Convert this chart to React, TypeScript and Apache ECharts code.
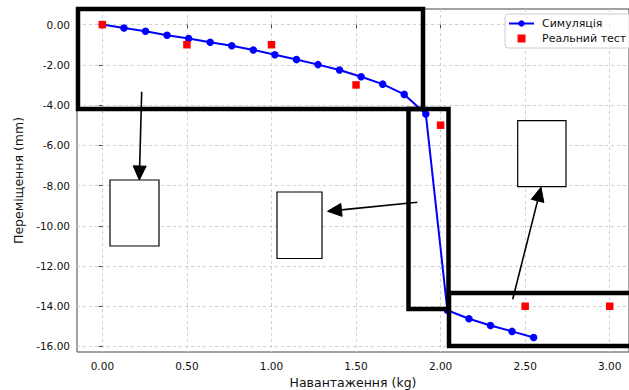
import React, { useEffect, useRef } from "react";
import * as echarts from "echarts";

// Simulation (blue line)
const xSim = [0, 0.1275, 0.255, 0.3825, 0.51, 0.6375, 0.765, 0.8925, 1.02, 1.1475, 1.275, 1.4025, 1.53, 1.6575, 1.785, 1.9125, 2.04, 2.1675, 2.295, 2.4225, 2.55];
const ySim = [0, -0.17, -0.33, -0.53, -0.69, -0.88, -1.05, -1.26, -1.5, -1.74, -1.99, -2.26, -2.59, -2.96, -3.47, -4.44, -14.2, -14.62, -14.96, -15.25, -15.55];

// Real test (red squares)
const xTest = [0, 0.5, 1.0, 1.5, 2.0, 2.5, 3.0];
const yTest = [0, -1.0, -1.0, -3.0, -5.0, -14.0, -14.0];

// Ticks
const xTicks = [0, 0.5, 1.0, 1.5, 2.0, 2.5, 3.0];
const yTicks = [0, -2, -4, -6, -8, -10, -12, -14, -16];

const seriesNames = ["Симуляція", "Реальний тест"];
const xTitle = "Навантаження (kg)";
const yTitle = "Переміщення (mm)";

const FONT = "DejaVu Sans";

function arrow(tail: number[], tip: number[], len = 14, half = 6.5) {
  const dx = tip[0] - tail[0];
  const dy = tip[1] - tail[1];
  const d = Math.sqrt(dx * dx + dy * dy);
  const ux = dx / d;
  const uy = dy / d;
  const bx = tip[0] - ux * len;
  const by = tip[1] - uy * len;
  const px = -uy;
  const py = ux;
  return [
    {
      type: "line",
      z: 100,
      shape: { x1: tail[0], y1: tail[1], x2: bx, y2: by },
      style: { stroke: "#000", lineWidth: 1.6 },
    },
    {
      type: "polygon",
      z: 100,
      shape: {
        points: [
          [tip[0], tip[1]],
          [bx + px * half, by + py * half],
          [bx - px * half, by - py * half],
        ],
      },
      style: { fill: "#000", stroke: "#000", lineWidth: 1 },
    },
  ];
}

function thickRect(x: number, y: number, w: number, h: number) {
  return {
    type: "rect",
    z: 100,
    shape: { x, y, width: w, height: h },
    style: { fill: "none", stroke: "#000", lineWidth: 4.5 },
  };
}

function thinBox(x: number, y: number, w: number, h: number) {
  return {
    type: "rect",
    z: 100,
    shape: { x, y, width: w, height: h },
    style: { fill: "#fff", stroke: "#000", lineWidth: 1.2 },
  };
}

export default function App() {
  const ref = useRef<HTMLDivElement>(null);
  useEffect(() => {
    document.body.style.margin = "0";
    const chart = echarts.init(ref.current!, null, { renderer: "svg" });
    const simData = xSim.map((x, i) => [x, ySim[i]]);
    const testData = xTest.map((x, i) => [x, yTest[i]]);
    const option: any = {
      animation: false,
      backgroundColor: "#fff",
      textStyle: { fontFamily: FONT },
      grid: {
        left: 77,
        top: 9,
        right: 0,
        bottom: 38,
        containLabel: false,
        outerBoundsMode: "none",
        show: true,
        borderColor: "#444",
        borderWidth: 1,
        backgroundColor: "transparent",
      },
      legend: {
        orient: "vertical",
        left: 505,
        top: 14,
        padding: [4, 20, 4, 3],
        itemWidth: 25,
        itemHeight: 8,
        itemGap: 4,
        backgroundColor: "rgba(255,255,255,0.85)",
        borderColor: "#ccc",
        borderWidth: 1,
        borderRadius: 3,
        textStyle: { fontFamily: FONT, fontSize: 11, color: "#111", padding: [0, 0, 0, 3] },
        data: [
          { name: seriesNames[0] },
          { name: seriesNames[1], icon: "path://M0,0L1,0L1,1L0,1Z", itemStyle: { opacity: 1 } },
        ],
      },
      xAxis: {
        type: "value",
        min: -0.15,
        max: 3.114,
        name: xTitle,
        nameLocation: "middle",
        nameGap: 23,
        nameTextStyle: { fontFamily: FONT, fontSize: 12.5, color: "#111" },
        axisLine: { show: false },
        axisTick: { show: true, length: 3.5, lineStyle: { color: "#444" }, customValues: xTicks },
        axisLabel: {
          customValues: xTicks,
          margin: 8,
          fontFamily: FONT,
          fontSize: 10.5,
          color: "#111",
          formatter: (v: number) => v.toFixed(2),
        },
        splitLine: { show: true, lineStyle: { color: "#d0d0d0", type: [3, 3], width: 1 } },
      },
      yAxis: {
        type: "value",
        min: -16.275,
        max: 0.775,
        name: yTitle,
        nameLocation: "middle",
        nameGap: 50,
        nameTextStyle: { fontFamily: FONT, fontSize: 12.5, color: "#111" },
        axisLine: { show: false },
        axisTick: { show: true, length: 3.5, lineStyle: { color: "#444" }, customValues: yTicks },
        axisLabel: {
          customValues: yTicks,
          margin: 7,
          fontFamily: FONT,
          fontSize: 10.5,
          color: "#111",
          formatter: (v: number) => v.toFixed(2),
        },
        splitLine: { show: true, lineStyle: { color: "#d0d0d0", type: [3, 3], width: 1 } },
      },
      series: [
        {
          name: seriesNames[0],
          type: "line",
          data: simData,
          symbol: "circle",
          symbolSize: 7.5,
          color: "#0000ff",
          lineStyle: { color: "#0000ff", width: 2 },
          itemStyle: { color: "#0000ff" },
          z: 3,
        },
        {
          name: seriesNames[1],
          type: "scatter",
          data: testData,
          symbol: "rect",
          symbolSize: 7.5,
          itemStyle: { color: "#ff0000", opacity: 1 },
          z: 4,
        },
      ],
      graphic: [
        thickRect(78, 9, 345, 100),
        thickRect(408.5, 109, 40, 200),
        thickRect(449, 293, 260, 53),
        thinBox(110, 180, 49, 66),
        thinBox(277, 192, 45, 66.5),
        thinBox(517.7, 120.7, 48.3, 66),
        ...arrow([141.7, 91.7], [139.3, 180]),
        ...arrow([417.3, 202.3], [327.5, 211.3]),
        ...arrow([512.7, 299.3], [541, 187.3]),
      ],
    };
    chart.setOption(option);
    return () => chart.dispose();
  }, []);
  return <div ref={ref} style={{ width: 629, height: 390, position: "absolute", left: 0, top: 0 }} />;
}
